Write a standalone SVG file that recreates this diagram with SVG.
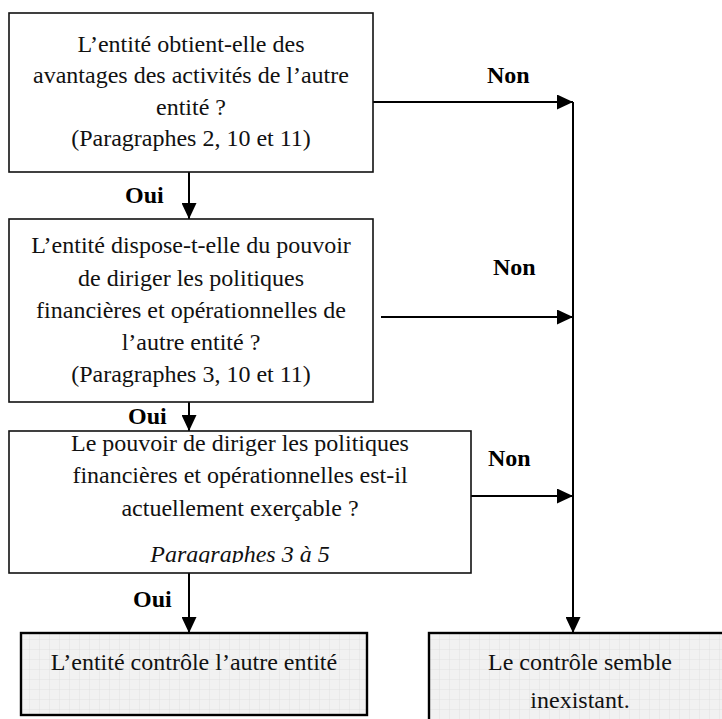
<svg xmlns="http://www.w3.org/2000/svg" width="722" height="719" viewBox="0 0 722 719">
<style>
.box{fill:#fff;stroke:#111;stroke-width:1.6}
.end{fill:url(#grid);stroke:#000;stroke-width:2.4}
.t{font-family:"Liberation Serif","Times New Roman",serif;font-size:24px;fill:#111;text-anchor:middle}
.it{font-style:italic}
.lbl{font-family:"Liberation Serif","Times New Roman",serif;font-size:24px;font-weight:bold;fill:#000}
.c{stroke:#000;stroke-width:2;fill:none}
</style>
<defs>
<pattern id="grid" width="10" height="10" patternUnits="userSpaceOnUse">
<rect width="10" height="10" fill="#f1f1f1"/>
<path d="M10 0V10M0 10H10" stroke="#dcdcdc" stroke-width="0.8" fill="none"/>
</pattern>
<marker id="ah" markerUnits="userSpaceOnUse" markerWidth="16" markerHeight="15" refX="16" refY="7.5" orient="auto">
<path d="M0,0 L16,7.5 L0,15 z" fill="#000"/>
</marker>
<clipPath id="clip3"><rect x="9" y="431" width="462" height="132"/></clipPath>
</defs>

<g id="connectors">
<line class="c" x1="189" y1="172" x2="189" y2="219" marker-end="url(#ah)"/>
<line class="c" x1="189" y1="402" x2="189" y2="431" marker-end="url(#ah)"/>
<line class="c" x1="189" y1="573" x2="189" y2="633" marker-end="url(#ah)"/>
<line class="c" x1="373" y1="102" x2="573" y2="102" marker-end="url(#ah)"/>
<line class="c" x1="381" y1="317" x2="573" y2="317" marker-end="url(#ah)"/>
<line class="c" x1="471" y1="496" x2="573" y2="496" marker-end="url(#ah)"/>
<line class="c" x1="573" y1="102" x2="573" y2="633" marker-end="url(#ah)"/>
<text class="lbl" x="125" y="203">Oui</text>
<text class="lbl" x="128" y="424">Oui</text>
<text class="lbl" x="133" y="607">Oui</text>
<text class="lbl" x="487" y="83">Non</text>
<text class="lbl" x="493" y="275">Non</text>
<text class="lbl" x="488" y="466">Non</text>
</g>

<g id="q1">
<rect class="box" x="9" y="13" width="364" height="159"/>
<text class="t" x="191" y="52">L’entité obtient-elle des</text>
<text class="t" x="191" y="83">avantages des activités de l’autre</text>
<text class="t" x="191" y="115">entité ?</text>
<text class="t" x="191" y="146">(Paragraphes 2, 10 et 11)</text>
</g>

<g id="q2">
<rect class="box" x="9" y="219" width="364" height="183"/>
<text class="t" x="191" y="253">L’entité dispose-t-elle du pouvoir</text>
<text class="t" x="191" y="286">de diriger les politiques</text>
<text class="t" x="191" y="318">financières et opérationnelles de</text>
<text class="t" x="191" y="350">l’autre entité ?</text>
<text class="t" x="191" y="382">(Paragraphes 3, 10 et 11)</text>
</g>

<g id="q3">
<rect class="box" x="9" y="431" width="462" height="142"/>
<text class="t" x="240" y="451">Le pouvoir de diriger les politiques</text>
<text class="t" x="240" y="483">financières et opérationnelles est-il</text>
<text class="t" x="240" y="516">actuellement exerçable ?</text>
<text class="t it" x="240" y="562" clip-path="url(#clip3)">Paragraphes 3 à 5</text>
</g>

<g id="yes">
<rect class="end" x="21" y="633" width="346" height="82"/>
<text class="t" x="194" y="670">L’entité contrôle l’autre entité</text>
</g>

<g id="no">
<rect class="end" x="429" y="633" width="302" height="100"/>
<text class="t" x="580" y="670">Le contrôle semble</text>
<text class="t" x="580" y="708">inexistant.</text>
</g>
</svg>
